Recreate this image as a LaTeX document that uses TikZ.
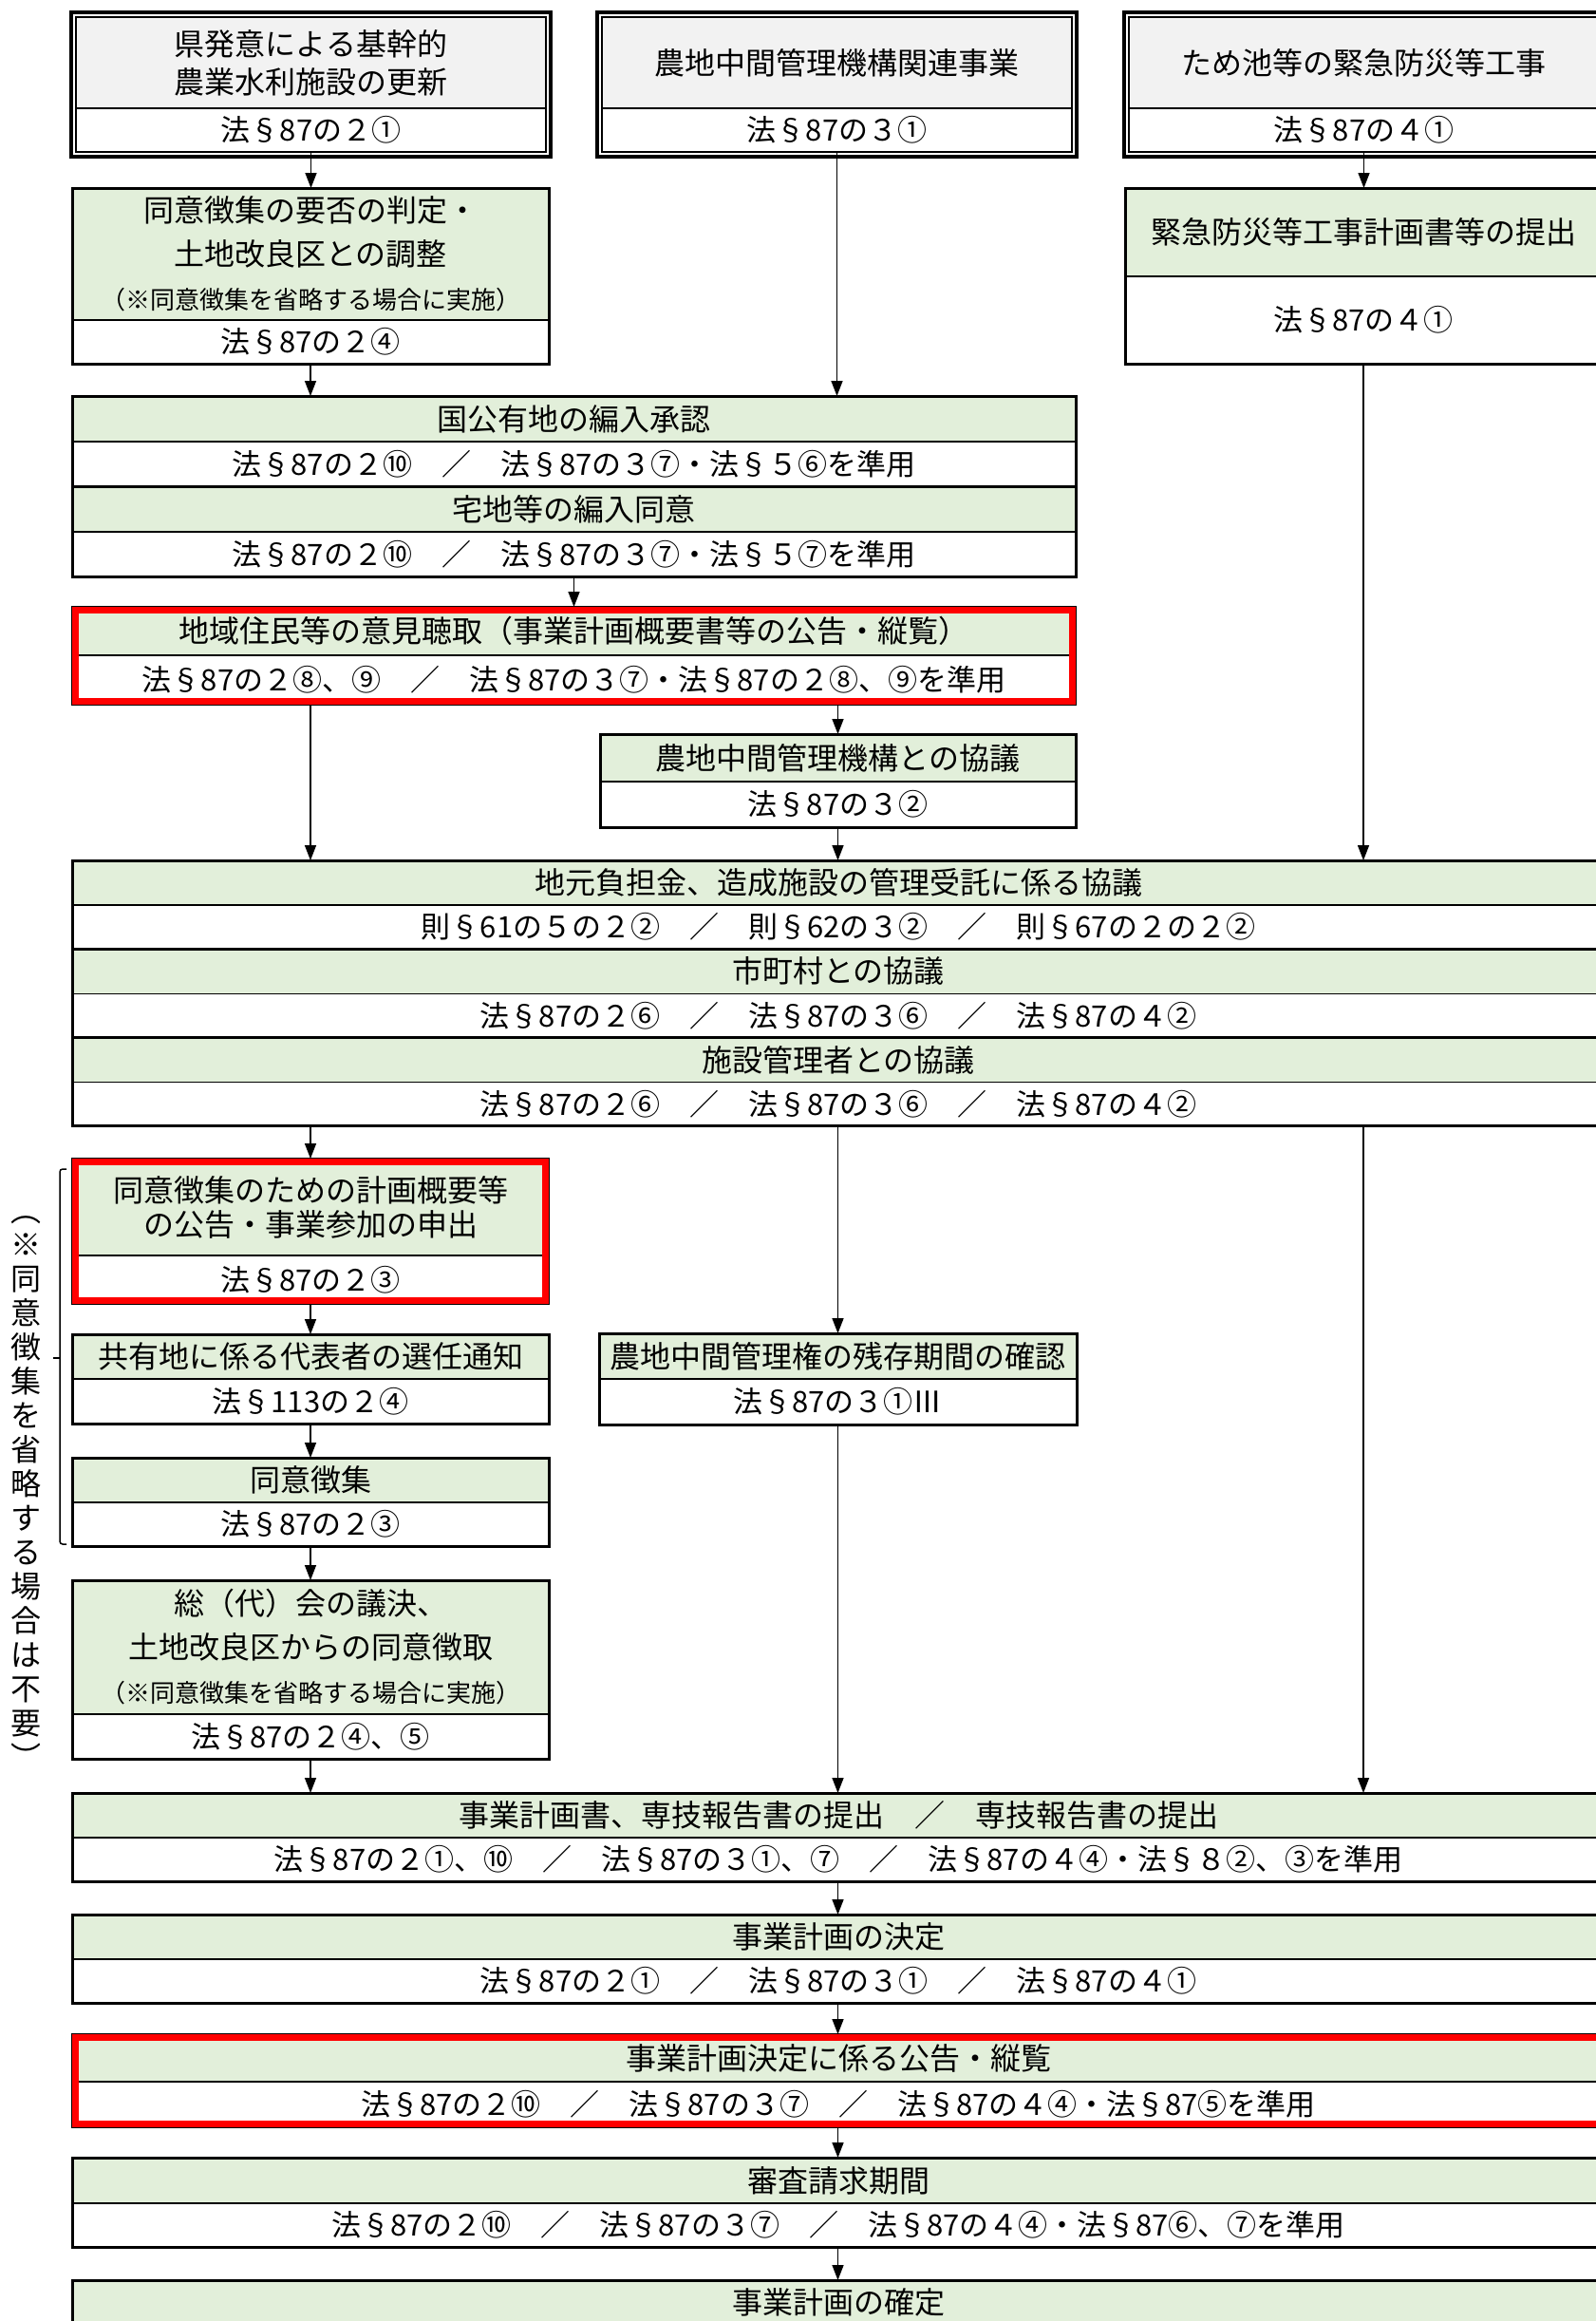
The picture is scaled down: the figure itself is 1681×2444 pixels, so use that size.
\documentclass[tikz,border=0pt]{standalone}
\usepackage{fontspec}
\setmainfont{Noto Sans CJK JP}
\usetikzlibrary{arrows.meta,positioning,fit}
\definecolor{headgreen}{HTML}{E2EFDA}
\definecolor{headgray}{HTML}{F2F2F2}
\definecolor{markred}{HTML}{FF0000}

\begin{document}
\begin{tikzpicture}[x=1pt,y=-1pt,
    >={Triangle[length=16pt,width=12pt]},
    box/.style={draw,line width=1.5pt,outer sep=0pt,inner sep=0pt,align=center,
      font=\fontsize{32}{40}\selectfont},
    head/.style={box,fill=headgreen},
    topbox/.style={box,fill=headgray},
    law/.style={box,fill=white,font=\fontsize{31}{40}\selectfont},
    boxframe/.style={draw,line width=3pt,inner sep=0pt},
    dframe/.style={draw,line width=4pt,inner sep=5pt},
    redframe/.style={draw=markred,line width=7pt,inner sep=-3.5pt},
    link/.style={->,line width=1.5pt}]
\useasboundingbox (0,0) rectangle (1681,2444);
\clip (0,0) rectangle (1681,2444);

% three kinds of project
\node[topbox,minimum width=495pt,minimum height=96pt,anchor=north west] (t1H) at (80,18) {県発意による基幹的\\農業水利施設の更新};
\node[law,minimum width=495pt,minimum height=46pt,below=0pt of t1H] (t1L) {法§87の２①};
\node[dframe,fit=(t1H)(t1L)] {};
\node[topbox,minimum width=495pt,minimum height=96pt,anchor=north west] (t2H) at (634,18) {農地中間管理機構関連事業};
\node[law,minimum width=495pt,minimum height=46pt,below=0pt of t2H] (t2L) {法§87の３①};
\node[dframe,fit=(t2H)(t2L)] {};
\node[topbox,minimum width=495pt,minimum height=96pt,anchor=north west] (t3H) at (1189,18) {ため池等の緊急防災等工事};
\node[law,minimum width=495pt,minimum height=46pt,below=0pt of t3H] (t3L) {法§87の４①};
\node[dframe,fit=(t3H)(t3L)] {};

\node[head,minimum width=502pt,minimum height=139pt,anchor=north west] (hanH) at (76,198) {同意徴集の要否の判定・\\[6pt]土地改良区との調整\\[6pt]{\fontsize{26}{32}\selectfont （※同意徴集を省略する場合に実施）}};
\node[law,minimum width=502pt,minimum height=46pt,below=0pt of hanH] (hanL) {法§87の２④};
\node[boxframe,fit=(hanH)(hanL)] {};
\node[head,minimum width=502pt,minimum height=93pt,anchor=north west] (emH) at (1185,198) {緊急防災等工事計画書等の提出};
\node[law,minimum width=502pt,minimum height=92pt,below=0pt of emH] (emL) {法§87の４①};
\node[boxframe,fit=(emH)(emL)] {};

\node[head,minimum width=1057pt,minimum height=48pt,anchor=north west] (kokuH) at (76,417) {国公有地の編入承認};
\node[law,minimum width=1057pt,minimum height=47pt,below=0pt of kokuH] (kokuL) {法§87の２⑩　／　法§87の３⑦・法§５⑥を準用};
\node[head,minimum width=1057pt,minimum height=48pt,below=0pt of kokuL] (takuH) {宅地等の編入同意};
\node[law,minimum width=1057pt,minimum height=47pt,below=0pt of takuH] (takuL) {法§87の２⑩　／　法§87の３⑦・法§５⑦を準用};
\node[boxframe,fit=(kokuH)(kokuL)] {};
\node[boxframe,fit=(takuH)(takuL)] {};

\node[head,minimum width=1057pt,minimum height=51pt,anchor=north west] (chiH) at (76,639) {地域住民等の意見聴取（事業計画概要書等の公告・縦覧）};
\node[law,minimum width=1057pt,minimum height=52pt,below=0pt of chiH] (chiL) {法§87の２⑧、⑨　／　法§87の３⑦・法§87の２⑧、⑨を準用};
\node[redframe,fit=(chiH)(chiL)] {};

\node[head,minimum width=501pt,minimum height=50pt,anchor=north west] (kyoH) at (632,773) {農地中間管理機構との協議};
\node[law,minimum width=501pt,minimum height=48pt,below=0pt of kyoH] (kyoL) {法§87の３②};
\node[boxframe,fit=(kyoH)(kyoL)] {};

% consultations
\node[head,minimum width=1614pt,minimum height=47pt,anchor=north west] (jimH) at (76,906) {地元負担金、造成施設の管理受託に係る協議};
\node[law,minimum width=1614pt,minimum height=46.3pt,below=0pt of jimH] (jimL) {則§61の５の２②　／　則§62の３②　／　則§67の２の２②};
\node[head,minimum width=1614pt,minimum height=47pt,below=0pt of jimL] (shiH) {市町村との協議};
\node[law,minimum width=1614pt,minimum height=46.3pt,below=0pt of shiH] (shiL) {法§87の２⑥　／　法§87の３⑥　／　法§87の４②};
\node[head,minimum width=1614pt,minimum height=47pt,below=0pt of shiL] (shisH) {施設管理者との協議};
\node[law,minimum width=1614pt,minimum height=46.3pt,below=0pt of shisH] (shisL) {法§87の２⑥　／　法§87の３⑥　／　法§87の４②};
\node[boxframe,fit=(jimH)(jimL)] {};
\node[boxframe,fit=(shiH)(shiL)] {};
\node[boxframe,fit=(shisH)(shisL)] {};

% consent steps
\node[head,minimum width=502pt,minimum height=102pt,anchor=north west] (kohH) at (76,1220) {同意徴集のための計画概要等\\[-4pt]の公告・事業参加の申出};
\node[law,minimum width=502pt,minimum height=51pt,below=0pt of kohH] (kohL) {法§87の２③};
\node[redframe,fit=(kohH)(kohL)] {};
\node[head,minimum width=502pt,minimum height=47pt,anchor=north west] (kyoyH) at (76,1405) {共有地に係る代表者の選任通知};
\node[law,minimum width=502pt,minimum height=47pt,below=0pt of kyoyH] (kyoyL) {法§113の２④};
\node[boxframe,fit=(kyoyH)(kyoyL)] {};
\node[head,minimum width=502pt,minimum height=47pt,anchor=north west] (choH) at (76,1535) {同意徴集};
\node[law,minimum width=502pt,minimum height=46pt,below=0pt of choH] (choL) {法§87の２③};
\node[boxframe,fit=(choH)(choL)] {};
\node[head,minimum width=502pt,minimum height=141pt,anchor=north west] (souH) at (76,1664) {総（代）会の議決、\\[6pt]土地改良区からの同意徴取\\[6pt]{\fontsize{26}{32}\selectfont （※同意徴集を省略する場合に実施）}};
\node[law,minimum width=502pt,minimum height=47pt,below=0pt of souH] (souL) {法§87の２④、⑤};
\node[boxframe,fit=(souH)(souL)] {};
\node[head,minimum width=503pt,minimum height=48pt,anchor=north west] (zanH) at (631,1404) {農地中間管理権の残存期間の確認};
\node[law,minimum width=503pt,minimum height=48pt,below=0pt of zanH] (zanL) {法§87の３①Ⅲ};
\node[boxframe,fit=(zanH)(zanL)] {};

% bracket and note
\draw[line width=1.5pt,rounded corners=3pt] (70,1231) -- (63,1231) -- (63,1626) -- (70,1626);
\draw[line width=1.5pt] (63,1430) -- (56,1430);
\node[inner sep=0pt,align=center,font=\fontsize{32}{36}\selectfont] (note) at (28,1572) {︵\\※\\同\\意\\徴\\集\\を\\省\\略\\す\\る\\場\\合\\は\\不\\要\\︶};

% plan
\node[head,minimum width=1614pt,minimum height=47pt,anchor=north west] (keiH) at (76,1888) {事業計画書、専技報告書の提出　／　専技報告書の提出};
\node[law,minimum width=1614pt,minimum height=46pt,below=0pt of keiH] (keiL) {法§87の２①、⑩　／　法§87の３①、⑦　／　法§87の４④・法§８②、③を準用};
\node[boxframe,fit=(keiH)(keiL)] {};
\node[head,minimum width=1614pt,minimum height=47pt,anchor=north west] (ketH) at (76,2016) {事業計画の決定};
\node[law,minimum width=1614pt,minimum height=46pt,below=0pt of ketH] (ketL) {法§87の２①　／　法§87の３①　／　法§87の４①};
\node[boxframe,fit=(ketH)(ketL)] {};
\node[head,minimum width=1614pt,minimum height=50pt,anchor=north west] (kokjH) at (76,2142) {事業計画決定に係る公告・縦覧};
\node[law,minimum width=1614pt,minimum height=48pt,below=0pt of kokjH] (kokjL) {法§87の２⑩　／　法§87の３⑦　／　法§87の４④・法§87⑤を準用};
\node[redframe,fit=(kokjH)(kokjL)] {};
\node[head,minimum width=1614pt,minimum height=48pt,anchor=north west] (shinH) at (76,2272) {審査請求期間};
\node[law,minimum width=1614pt,minimum height=46pt,below=0pt of shinH] (shinL) {法§87の２⑩　／　法§87の３⑦　／　法§87の４④・法§87⑥、⑦を準用};
\node[boxframe,fit=(shinH)(shinL)] {};
\node[head,minimum width=1614pt,minimum height=47pt,anchor=north west] (kakH) at (76,2401) {事業計画の確定};
\node[boxframe,fit=(kakH)] {};

% arrows
\draw[link] (t1L.south) -- (t1L.south |- hanH.north);
\draw[link] (t3L.south) -- (t3L.south |- emH.north);
\draw[link] (t2L.south) -- (t2L.south |- kokuH.north);
\draw[link] (hanL.south) -- (hanL.south |- kokuH.north);
\draw[link] (takuL.south) -- (chiH.north);
\draw[link] (chiL.south -| hanL.south) -- (hanL.south |- jimH.north);
\draw[link] (chiL.south -| kyoH.north) -- (kyoH.north);
\draw[link] (kyoL.south) -- (kyoL.south |- jimH.north);
\draw[link] (emL.south) -- (emL.south |- jimH.north);
\draw[link] (shisL.south -| kohH.north) -- (kohH.north);
\draw[link] (shisL.south -| zanH.north) -- (zanH.north);
\draw[link] (shisL.south -| emL.south) -- (emL.south |- keiH.north);
\draw[link] (kohL.south) -- (kyoyH.north);
\draw[link] (kyoyL.south) -- (choH.north);
\draw[link] (choL.south) -- (souH.north);
\draw[link] (souL.south) -- (souL.south |- keiH.north);
\draw[link] (zanL.south) -- (zanL.south |- keiH.north);
\draw[link] (keiL.south -| kyoL.south) -- (kyoL.south |- ketH.north);
\draw[link] (ketL.south -| kyoL.south) -- (kyoL.south |- kokjH.north);
\draw[link] (kokjL.south -| kyoL.south) -- (kyoL.south |- shinH.north);
\draw[link] (shinL.south -| kyoL.south) -- (kyoL.south |- kakH.north);
\end{tikzpicture}
\end{document}
